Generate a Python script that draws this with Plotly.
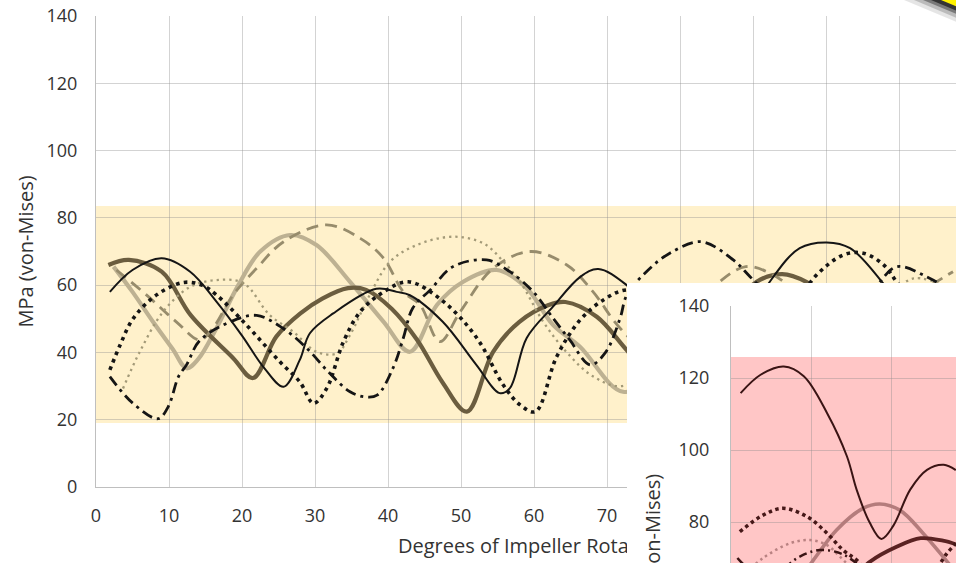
import plotly.graph_objects as go

# ---------------- main chart data (Degrees of impeller rotation vs MPa) ----------------
a_x = [1.7, 4.5, 9, 13, 18.8, 21.5, 24.7, 28, 31, 34.5, 37, 40.5, 44, 47.5, 50.8, 54.4, 58, 62, 64.3, 68.6, 72.7, 78, 84, 88, 90.5, 94, 97.3, 101, 106, 112, 118]
a_y = [66, 67.5, 64, 51, 38.3, 32.4, 44.7, 51.6, 56, 59.1, 58.6, 53, 43.7, 31, 22.4, 40.2, 49.1, 54.1, 55, 50.6, 40.7, 28, 40, 55, 61, 63.3, 61, 55, 45, 40, 48]

b_x = [2.4, 5, 8, 10.5, 12.4, 14, 16.5, 19.5, 22.5, 26.6, 30.2, 34.8, 39.4, 43, 46.7, 50.3, 54.9, 59, 62.6, 66.3, 72.2, 78, 84, 90, 96, 102, 108, 113, 118]
b_y = [65.5, 58, 48.5, 41, 35.3, 38, 47.2, 60, 70, 74.9, 71.9, 61, 49.1, 40.2, 54.1, 61, 64.5, 59.1, 48.2, 41.7, 28.3, 35, 48, 56, 58, 55, 50, 53, 58]

c_x = [1.9, 5, 9, 12.9, 16.5, 20, 23, 25.7, 27.9, 29.3, 32.5, 38.4, 41.2, 43, 47.5, 52.1, 55.3, 56.7, 59, 62.6, 66.3, 68.8, 72.7, 78, 84, 88, 92.3, 96.4, 100.1, 103.3, 107.8, 112, 118]
c_y = [58, 64.5, 68, 64, 55.1, 45, 35.5, 29.8, 37.7, 45.7, 51.6, 58.9, 58, 57, 49.1, 36.3, 27.9, 29.4, 44.3, 53.6, 62.4, 64.8, 60, 48, 40, 45, 61, 71, 72.7, 71, 60.6, 48, 40]

d_x = [1.9, 3.3, 5.1, 8.3, 12, 14.5, 16.5, 20.2, 25.2, 27.9, 29.8, 31.6, 33.9, 36.2, 39.4, 42.8, 47.6, 52.2, 55.8, 58.1, 60.2, 63.1, 66.3, 69.5, 72.7, 78, 84, 90, 95, 98.7, 102.4, 105.1, 107.9, 110, 114, 118]
d_y = [34.8, 42.2, 50.1, 57.1, 60.8, 60, 57.1, 49.1, 37.2, 31.3, 24.9, 29.3, 43.2, 52.1, 58, 61, 55.1, 44.2, 30.3, 24.4, 22.4, 38.7, 49.6, 55.6, 58.6, 56, 45, 40, 52, 63, 69, 69.5, 66, 60, 50, 45]

e_x = [1.9, 5, 8.5, 9.9, 11.3, 12.4, 14.2, 18.4, 22, 25.6, 28.9, 31.8, 34.8, 36.8, 38.5, 40.7, 42.1, 43.4, 45.8, 48.9, 53.5, 56.7, 59.9, 62.6, 64.9, 67.7, 69.8, 71.8, 72.7, 75.4, 78.6, 82.9, 87.3, 89.6, 93, 98, 103, 107, 109.7, 113.8, 118]
e_y = [32.8, 25, 20.3, 23.9, 32.8, 36.3, 43.5, 49.1, 51, 47.2, 41.2, 34.3, 28.3, 26.8, 27.3, 35.4, 44.3, 53.2, 58.6, 65.5, 67.5, 64, 58, 50.2, 43.7, 36.3, 40, 50.2, 57, 64, 69.5, 72.9, 67.5, 62.5, 55, 45, 50, 60, 65.5, 62.5, 57]

f_x = [2.8, 6.9, 11, 14.2, 16, 18.8, 22, 25.7, 31.6, 36.2, 39.4, 42.1, 44.4, 47.1, 49.9, 54.4, 59.5, 64.5, 68.1, 71.8, 76, 80, 83, 85.7, 89, 92.3, 96, 102, 108, 113, 117.4]
f_y = [64.5, 57.1, 49.1, 43.7, 47.2, 57.1, 65, 72.9, 77.9, 73.9, 68, 58, 54.1, 43.2, 52.1, 65, 70, 66, 58, 47.2, 40, 45, 55, 61.5, 65.5, 63.6, 58, 48, 50, 58, 64]

g_x = [3.7, 6, 9.2, 12.9, 16.5, 20.2, 23.8, 27, 30.2, 33, 34.8, 37.5, 40.3, 43.9, 48.9, 53.1, 55.8, 58.1, 61.3, 64.5, 68, 72, 78, 84, 90, 96, 102, 108, 112, 118]
g_y = [29.3, 40.2, 52.1, 59.5, 61.5, 60.6, 51.1, 46.2, 40.2, 39.7, 45.2, 57.1, 67, 71.9, 74.4, 72.4, 67, 61, 49, 40, 33, 30, 38, 50, 55, 50, 45, 55, 62, 58]

main_band = [19, 83.5]          # yellow band limits (MPa)
main_yticks = [0, 20, 40, 60, 80, 100, 120, 140]
main_xticks = [0, 10, 20, 30, 40, 50, 60, 70, 80, 90, 100, 110]
x_title = "Degrees of Impeller Rotation"
y_title = "MPa (von-Mises)"

# ---------------- inset chart data ----------------
i1_x = [1.2, 3.7, 6.6, 9.1, 12, 14.5, 15.7, 17.3, 18.8, 20.3, 22.4, 24.5, 26.6, 28.1]
i1_y = [115.8, 120.9, 123.2, 120.5, 110.3, 98.2, 89, 80, 75.3, 79, 89, 94.5, 95.9, 94.4]

i2_x = [1.1, 4, 6.5, 9.5, 12, 14, 15.7, 18, 22, 25, 27, 28.1]
i2_y = [77.3, 81.9, 83.8, 81.5, 76.9, 72.2, 69.4, 64, 60, 65, 71.3, 74]

i3_x = [8.5, 10.3, 13.2, 16.5, 18.6, 21.1, 24, 26.5, 28.1]
i3_y = [64, 69.4, 77.8, 83.8, 85, 83.3, 76.9, 70.4, 66]

i4_x = [2, 4, 7.4, 9.9, 12, 13.6, 16]
i4_y = [66, 70, 74.1, 75, 73.6, 70.4, 65]

i5_x = [15, 17.4, 20.7, 23.7, 26.5, 28.1]
i5_y = [64, 69, 73.1, 75.5, 74.8, 73.8]

i6_x = [0.8, 3, 6, 8.6, 11.1, 14, 17]
i6_y = [70, 66, 66.5, 70.4, 72.2, 71, 66]

inset_band = [60, 125.8]
inset_yticks = [60, 80, 100, 120, 140]

W, H = 956, 563
FONT = "Open Sans"
TXT = "#333333"

def fx(p):
    return p / W

def fy(p):
    return 1 - p / H

fig = go.Figure()

main_series = [
    (b_x, b_y, "#bdb192", 4.2, "solid"),
    (a_x, a_y, "#6b5d3f", 4.2, "solid"),
    (f_x, f_y, "#978c6c", 2.8, "12px,7px"),
    (g_x, g_y, "#a39a78", 2.3, "2.3px,4px"),
    (e_x, e_y, "#151515", 2.8, "11px,5px,3px,5px"),
    (d_x, d_y, "#151515", 3.6, "3.6px,4.4px"),
    (c_x, c_y, "#151515", 2.0, "solid"),
]
for xs, ys, col, w, dash in main_series:
    fig.add_trace(go.Scatter(x=xs, y=ys, mode="lines", xaxis="x", yaxis="y",
                             line=dict(color=col, width=w, dash=dash, shape="spline", smoothing=1.0),
                             hoverinfo="skip", showlegend=False))

# x-axis title: text in its own strip subplot (x2/y2, pixel-like units) so the inset panel drawn later covers its tail
fig.add_trace(go.Scatter(x=[398], y=[548], mode="text", text=[x_title],
                         textposition="middle right", cliponaxis=False, xaxis="x2", yaxis="y2",
                         textfont=dict(family=FONT, size=20, color=TXT),
                         hoverinfo="skip", showlegend=False))

# white inset panel subplot (x3/y3, empty)
fig.add_trace(go.Scatter(x=[0.5], y=[0.5], mode="markers", marker=dict(opacity=0),
                         xaxis="x3", yaxis="y3", hoverinfo="skip", showlegend=False))

inset_series = [
    (i3_x, i3_y, "#b47c7c", 3.6, "solid"),
    (i4_x, i4_y, "#b98282", 2.5, "2.5px,3.5px"),
    (i5_x, i5_y, "#5a2222", 3.8, "solid"),
    (i6_x, i6_y, "#3a1414", 2.5, "8px,4px,2px,4px"),
    (i2_x, i2_y, "#461818", 3.5, "3.5px,3.5px"),
    (i1_x, i1_y, "#3a1414", 2.0, "solid"),
]
for xs, ys, col, w, dash in inset_series:
    fig.add_trace(go.Scatter(x=xs, y=ys, mode="lines", xaxis="x4", yaxis="y4",
                             line=dict(color=col, width=w, dash=dash, shape="spline", smoothing=1.0),
                             hoverinfo="skip", showlegend=False))

X_MAX = (W - 96) / 7.3
INSET_XMAX = (W - 731) / 8.0
grid = "rgba(140,140,140,0.38)"
axline = "#bfbfbf"
hidden = dict(showgrid=False, zeroline=False, showticklabels=False, showline=False, ticks="")

fig.update_layout(
    width=W, height=H,
    margin=dict(l=0, r=0, t=0, b=0),
    paper_bgcolor="white", plot_bgcolor="white",
    showlegend=False,
    xaxis=dict(domain=[fx(96), 1], range=[0, X_MAX], tickvals=main_xticks,
               showgrid=True, gridcolor=grid, gridwidth=1, zeroline=False,
               showline=True, linecolor=axline, linewidth=1, ticks="",
               tickfont=dict(family=FONT, size=18, color=TXT), ticklabelstandoff=12,
               anchor="y", automargin=False),
    yaxis=dict(domain=[fy(487), fy(16)], range=[0, 140], tickvals=main_yticks,
               showgrid=True, gridcolor=grid, gridwidth=1, zeroline=False,
               showline=True, linecolor=axline, linewidth=1, ticks="",
               tickfont=dict(family=FONT, size=18, color=TXT), ticklabelstandoff=14,
               anchor="x", automargin=False),
    xaxis2=dict(domain=[0, 1], range=[0, W], anchor="y2", **hidden),
    yaxis2=dict(domain=[0, fy(500)], range=[H, 500], anchor="x2", **hidden),
    xaxis3=dict(domain=[fx(627), 1], range=[0, 1], anchor="y3", **hidden),
    yaxis3=dict(domain=[0, fy(283)], range=[0, 1], anchor="x3", **hidden),
    xaxis4=dict(domain=[fx(731), 1], range=[0, INSET_XMAX], dtick=10, tick0=0,
                showgrid=True, gridcolor=grid, zeroline=False, showticklabels=False,
                showline=True, linecolor=axline, linewidth=1, ticks="", anchor="y4", automargin=False),
    yaxis4=dict(domain=[0, fy(306)], range=[140 - (H - 306) / 3.6, 140], tickvals=inset_yticks,
                showgrid=True, gridcolor=grid, zeroline=False,
                showline=True, linecolor=axline, linewidth=1, ticks="",
                tickfont=dict(family=FONT, size=18, color=TXT), ticklabelstandoff=17,
                anchor="x4", automargin=False),
)

# tolerance bands
fig.add_shape(type="rect", xref="x", yref="y", x0=0, x1=X_MAX, y0=main_band[0], y1=main_band[1],
              fillcolor="#fff1cb", line=dict(width=0), layer="below")
fig.add_shape(type="rect", xref="x4", yref="y4", x0=0, x1=INSET_XMAX, y0=inset_band[0], y1=inset_band[1],
              fillcolor="#ffc6c6", line=dict(width=0), layer="below")

# y-axis titles
fig.add_annotation(text=y_title, xref="paper", yref="paper", x=fx(25), y=fy(251.5),
                   textangle=-90, showarrow=False, xanchor="center", yanchor="middle",
                   font=dict(family=FONT, size=20, color=TXT))
fig.add_annotation(text=y_title, xref="paper", yref="paper", x=fx(652), y=fy(472),
                   textangle=-90, showarrow=False, xanchor="center", yanchor="top",
                   font=dict(family=FONT, size=20, color=TXT))

# yellow corner sticker with shadow
def tri(x0, col):
    path = "M {:.5f},{:.5f} L {:.5f},{:.5f} L {:.5f},{:.5f} Z".format(
        fx(x0), fy(0), fx(W), fy(0), fx(W), fy((W - x0) * 0.42))
    fig.add_shape(type="path", xref="paper", yref="paper", path=path,
                  fillcolor=col, line=dict(width=0), layer="above")

tri(904, "rgba(0,0,0,0.10)")
tri(914, "rgba(0,0,0,0.18)")
tri(923, "rgba(0,0,0,0.35)")
tri(931, "rgba(30,30,30,0.75)")
tri(941, "#fff200")

fig.write_html("out.html", config={"displayModeBar": False},
               post_script="document.body.style.margin='0';")
